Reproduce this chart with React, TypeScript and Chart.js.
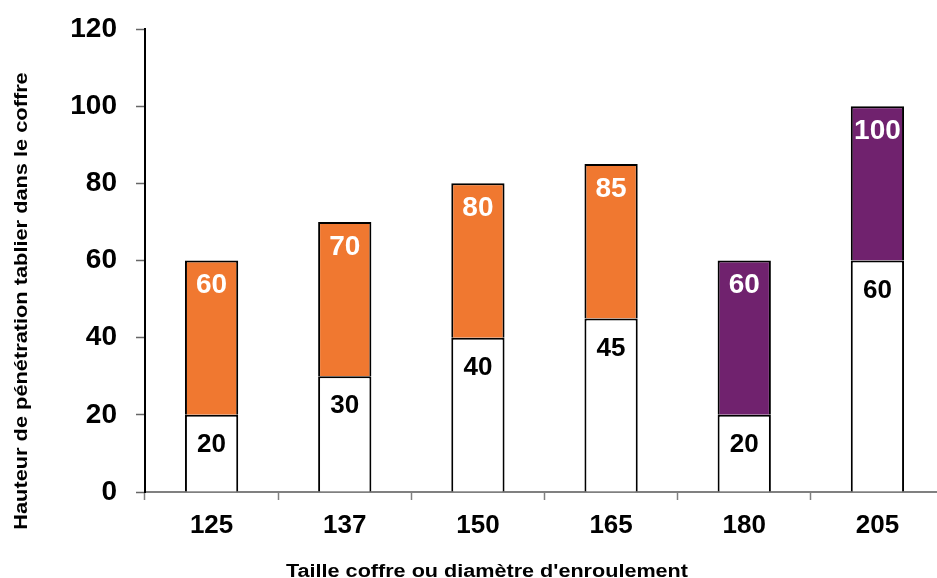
import React, { useEffect, useRef } from "react";
import { Chart, registerables } from "chart.js";

Chart.register(...registerables);

const categories = ["125", "137", "150", "165", "180", "205"];
const bottomValues = [20, 30, 40, 45, 20, 60];
const totalValues = [60, 70, 80, 85, 60, 100];
const topColors = ["#F07830", "#F07830", "#F07830", "#F07830", "#70226E", "#70226E"];
const yTicks = [0, 20, 40, 60, 80, 100, 120];
const yTitle = "Hauteur de pénétration tablier dans le coffre";
const xTitle = "Taille coffre ou diamètre d'enroulement";

const FONT = "'Liberation Sans', Arial, sans-serif";

const labelPlugin = {
  id: "customLabels",
  afterDatasetsDraw(chart: any) {
    const ctx = chart.ctx;
    ctx.save();
    ctx.textAlign = "center";
    ctx.textBaseline = "middle";
    const m0 = chart.getDatasetMeta(0);
    m0.data.forEach((el: any, i: number) => {
      ctx.fillStyle = "#000";
      ctx.font = `bold 26px ${FONT}`;
      ctx.fillText(String(bottomValues[i]), el.x, el.y + 30);
    });
    const m1 = chart.getDatasetMeta(1);
    m1.data.forEach((el: any, i: number) => {
      ctx.fillStyle = "#fff";
      ctx.font = `bold 28px ${FONT}`;
      ctx.fillText(String(totalValues[i]), el.x, el.y + 25);
    });
    // axis titles
    ctx.fillStyle = "#000";
    ctx.textBaseline = "alphabetic";
    ctx.font = `bold 18px ${FONT}`;
    ctx.save();
    ctx.translate(487, 577);
    ctx.scale(1.2, 1);
    ctx.fillText(xTitle, 0, 0);
    ctx.restore();
    ctx.save();
    ctx.translate(27, 301);
    ctx.rotate(-Math.PI / 2);
    ctx.scale(1.21, 1);
    ctx.font = `bold 18px ${FONT}`;
    ctx.fillText(yTitle, 0, 0);
    ctx.restore();
    ctx.restore();
  },
};

export default function App() {
  const ref = useRef<HTMLCanvasElement | null>(null);
  useEffect(() => {
    if (!ref.current) return;
    const topValues = totalValues.map((t, i) => t - bottomValues[i]);
    const chart = new Chart(ref.current, {
      type: "bar",
      data: {
        labels: categories,
        datasets: [
          {
            data: bottomValues,
            backgroundColor: "#ffffff",
            borderColor: "#000",
            borderWidth: 2,
            barPercentage: 0.4,
            categoryPercentage: 1,
          },
          {
            data: topValues,
            backgroundColor: topColors,
            borderColor: "#000",
            borderWidth: 2,
            barPercentage: 0.4,
            categoryPercentage: 1,
          },
        ],
      },
      options: {
        responsive: false,
        animation: false,
        devicePixelRatio: 1,
        layout: { padding: { left: 0, top: 29, right: 16, bottom: 0 } },
        plugins: { legend: { display: false }, tooltip: { enabled: false } },
        scales: {
          x: {
            stacked: true,
            afterFit: (s: any) => {
              s.height = 86;
              s.paddingLeft = 0;
              s.paddingRight = 0;
            },
            grid: {
              drawOnChartArea: false,
              drawTicks: true,
              tickLength: 8,
              tickColor: "#808080",
              tickWidth: 1.5,
              offset: true,
            },
            border: { color: "#808080", width: 2 },
            ticks: {
              color: "#000",
              font: { family: FONT, size: 26, weight: "bold" },
              padding: 10,
              maxRotation: 0,
            },
          },
          y: {
            stacked: true,
            min: 0,
            max: 120,
            afterFit: (s: any) => {
              s.width = 145;
              s.paddingTop = 0;
              s.paddingBottom = 0;
            },
            afterBuildTicks: (s: any) => {
              s.ticks = yTicks.map((v) => ({ value: v }));
            },
            grid: {
              drawOnChartArea: false,
              drawTicks: true,
              tickLength: 9,
              tickColor: "#666",
              tickWidth: 1.5,
            },
            border: { color: "#000", width: 2 },
            ticks: {
              color: "#000",
              font: { family: FONT, size: 28, weight: "bold" },
              padding: 19,
            },
          },
        },
      },
      plugins: [labelPlugin],
    });
    return () => chart.destroy();
  }, []);
  return (
    <div
      style={{
        position: "fixed",
        left: 0,
        top: 0,
        width: 937,
        height: 578,
        overflow: "hidden",
        background: "#fff",
      }}
    >
      <canvas ref={ref} width={960} height={578} style={{ width: 960, height: 578, display: "block" }} />
    </div>
  );
}
